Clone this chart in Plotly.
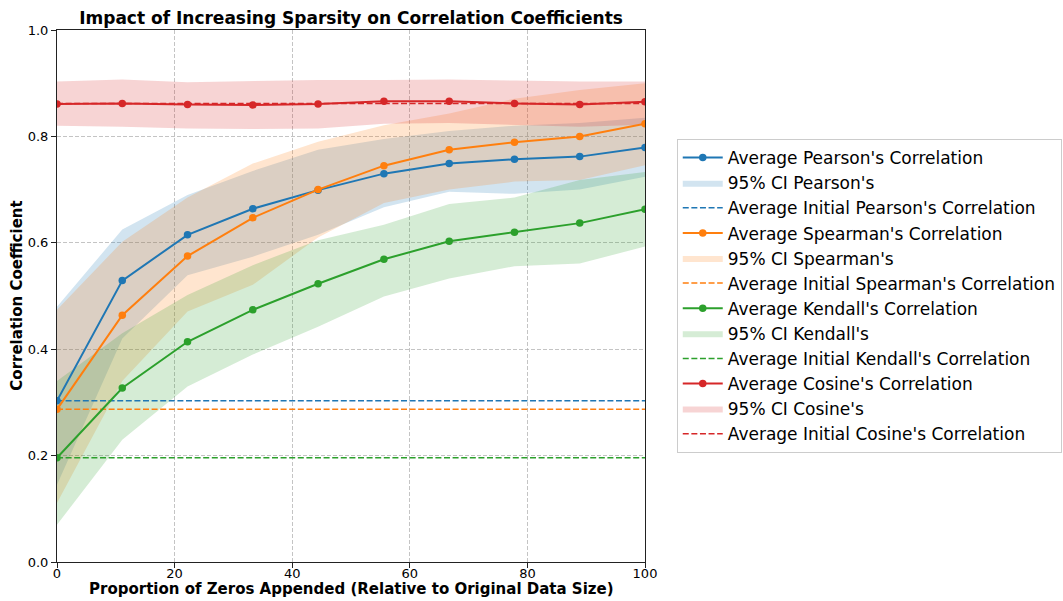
import plotly.graph_objects as go

# Proportion of zeros appended (% of original data size)
proportions = [0, 11.1, 22.2, 33.3, 44.4, 55.6, 66.7, 77.8, 88.9, 100]

# Mean correlation after appending zeros
pearson_mean = [0.303, 0.529, 0.615, 0.664, 0.699, 0.730, 0.749, 0.757, 0.762, 0.779]
spearman_mean = [0.287, 0.464, 0.575, 0.647, 0.700, 0.745, 0.775, 0.789, 0.800, 0.824]
kendall_mean = [0.196, 0.327, 0.414, 0.474, 0.523, 0.569, 0.603, 0.620, 0.637, 0.663]
cosine_mean = [0.861, 0.862, 0.860, 0.859, 0.861, 0.866, 0.866, 0.862, 0.860, 0.865]

# 95% confidence interval bounds
pearson_lo = [0.145, 0.420, 0.539, 0.574, 0.615, 0.667, 0.696, 0.692, 0.700, 0.724]
pearson_hi = [0.480, 0.625, 0.690, 0.735, 0.775, 0.795, 0.810, 0.820, 0.825, 0.835]
spearman_lo = [0.111, 0.340, 0.471, 0.521, 0.610, 0.675, 0.700, 0.715, 0.718, 0.746]
spearman_hi = [0.474, 0.602, 0.685, 0.749, 0.790, 0.821, 0.843, 0.871, 0.887, 0.900]
kendall_lo = [0.070, 0.230, 0.330, 0.390, 0.442, 0.499, 0.533, 0.556, 0.561, 0.593]
kendall_hi = [0.340, 0.430, 0.502, 0.558, 0.605, 0.634, 0.673, 0.685, 0.718, 0.733]
cosine_lo = [0.820, 0.818, 0.815, 0.814, 0.815, 0.824, 0.825, 0.822, 0.818, 0.822]
cosine_hi = [0.903, 0.907, 0.902, 0.904, 0.906, 0.906, 0.907, 0.905, 0.903, 0.903]

# Mean correlation of the original (unpadded) data
initial_values = [0.303, 0.287, 0.196, 0.862]

names = ["Pearson's", "Spearman's", "Kendall's", "Cosine's"]
colors = ["#1f77b4", "#ff7f0e", "#2ca02c", "#d62728"]
fills = ["rgba(31,119,180,0.2)", "rgba(255,127,14,0.2)",
         "rgba(44,160,44,0.2)", "rgba(214,39,40,0.2)"]
means = [pearson_mean, spearman_mean, kendall_mean, cosine_mean]
lows = [pearson_lo, spearman_lo, kendall_lo, cosine_lo]
highs = [pearson_hi, spearman_hi, kendall_hi, cosine_hi]

FONT = "DejaVu Sans"
fig = go.Figure()

# confidence bands first so every line sits on top of them
for i, name in enumerate(names):
    fig.add_trace(go.Scatter(
        x=proportions + proportions[::-1],
        y=highs[i] + lows[i][::-1],
        fill="toself", fillcolor=fills[i],
        line=dict(width=0, color=fills[i]),
        mode="lines", hoverinfo="skip",
        name=f"95% CI {name}", legendrank=100 + 3 * i + 1,
    ))

for i, name in enumerate(names):
    fig.add_trace(go.Scatter(
        x=proportions, y=means[i], mode="lines+markers",
        line=dict(color=colors[i], width=2),
        marker=dict(color=colors[i], size=7.5),
        name=f"Average {name} Correlation", legendrank=100 + 3 * i,
    ))
    fig.add_trace(go.Scatter(
        x=[proportions[0], proportions[-1]],
        y=[initial_values[i], initial_values[i]], mode="lines",
        line=dict(color=colors[i], width=1.5, dash="6px,2.6px"),
        name=f"Average Initial {name} Correlation", legendrank=100 + 3 * i + 2,
    ))

axis_common = dict(
    showline=True, mirror=True, linecolor="#222", linewidth=1.1,
    ticks="outside", ticklen=5, tickwidth=1.1, tickcolor="#222",
    showgrid=True, gridcolor="rgba(176,176,176,0.75)", gridwidth=0.8,
    griddash="4px,2px", zeroline=False, automargin=False,
    tickfont=dict(family=FONT, size=13, color="black"),
)

fig.update_layout(
    width=1063, height=601,
    margin=dict(l=57, r=418, t=30, b=39, autoexpand=False),
    paper_bgcolor="white", plot_bgcolor="white",
    font=dict(family=FONT, color="black"),
    title=dict(
        text="<b>Impact of Increasing Sparsity on Correlation Coefficients</b>",
        x=(57.3 + 644.8) / 2 / 1063, xanchor="center",
        y=1 - 18 / 601, yanchor="middle", yref="container",
        font=dict(family=FONT, size=17, color="black"),
    ),
    xaxis=dict(range=[0, 100], tickvals=[0, 20, 40, 60, 80, 100],
               ticklabelstandoff=-6, **axis_common),
    yaxis=dict(range=[0, 1], tickvals=[0, 0.2, 0.4, 0.6, 0.8, 1.0],
               tickformat=".1f", **axis_common),
    legend=dict(
        x=1.054, xanchor="left", y=0.795, yanchor="top",
        bgcolor="white", bordercolor="#cccccc", borderwidth=1,
        font=dict(family=FONT, size=17, color="black"),
        tracegroupgap=0, itemwidth=40,
    ),
    showlegend=True,
    annotations=[
        dict(text="<b>Proportion of Zeros Appended (Relative to Original Data Size)</b>",
             xref="paper", yref="paper", x=0.5, y=-0.0718,
             xanchor="center", yanchor="bottom", showarrow=False,
             font=dict(family=FONT, size=15, color="black")),
        dict(text="<b>Correlation Coefficient</b>",
             xref="paper", yref="paper", x=-0.0686, y=0.5, textangle=-90,
             xanchor="center", yanchor="middle", showarrow=False,
             font=dict(family=FONT, size=15, color="black")),
    ],
)

fig.write_html("out.html")
